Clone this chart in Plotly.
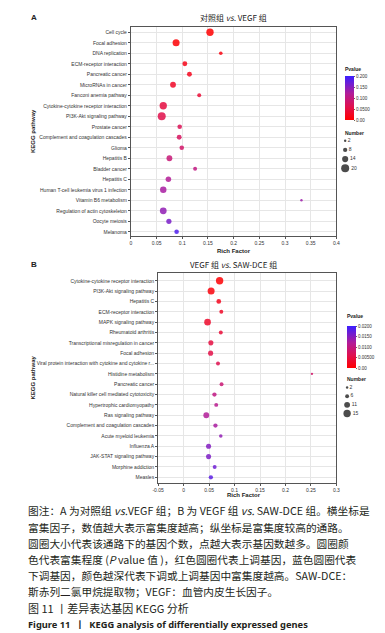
import plotly.graph_objects as go

W, H = 385, 633

# ---------------- Panel A data ----------------
paths_a = ["Cell cycle", "Focal adhesion", "DNA replication", "ECM-receptor interaction",
           "Pancreatic cancer", "MicroRNAs in cancer", "Fanconi anemia pathway",
           "Cytokine-cytokine receptor interaction", "PI3K-Akt signaling pathway",
           "Prostate cancer", "Complement and coagulation cascades", "Glioma",
           "Hepatitis B", "Bladder cancer", "Hepatitis C",
           "Human T-cell leukemia virus 1 infection", "Vitamin B6 metabolism",
           "Regulation of actin cytoskeleton", "Oocyte meiosis", "Melanoma"]
rich_a = [0.154, 0.088, 0.175, 0.105, 0.114, 0.082, 0.133, 0.063, 0.060, 0.095,
          0.094, 0.099, 0.075, 0.125, 0.073, 0.063, 0.332, 0.063, 0.074, 0.089]
num_a = [18, 17, 6, 10, 10, 13, 7, 18, 20, 9, 10, 9, 13, 7, 12, 15, 2, 16, 11, 9]
pval_a = [0.0005, 0.004, 0.012, 0.018, 0.022, 0.030, 0.041, 0.050, 0.058, 0.066,
          0.072, 0.080, 0.092, 0.101, 0.118, 0.127, 0.134, 0.142, 0.158, 0.186]
xtick_a = [0, 0.05, 0.1, 0.15, 0.2, 0.25, 0.3, 0.35, 0.4]
xtick_a_text = ["0", "0.05", "0.1", "0.15", "0.2", "0.25", "0.3", "0.35", "0.4"]
cbar_a_vals = [0, 0.05, 0.1, 0.15, 0.2]
cbar_a_text = ["0.00", "0.0500", "0.100", "0.150", "0.200"]
size_leg_a = [2, 8, 14, 20]

# ---------------- Panel B data ----------------
paths_b = ["Cytokine-cytokine receptor interaction", "PI3K-Akt signaling pathway",
           "Hepatitis C", "ECM-receptor interaction", "MAPK signaling pathway",
           "Rheumatoid arthritis", "Transcriptional misregulation in cancer",
           "Focal adhesion", "Viral protein interaction with cytokine and cytokine r...",
           "Histidine metabolism", "Pancreatic cancer",
           "Natural killer cell mediated cytotoxicity", "Hypertrophic cardiomyopathy",
           "Ras signaling pathway", "Complement and coagulation cascades",
           "Acute myeloid leukemia", "Influenza A", "JAK-STAT signaling pathway",
           "Morphine addiction", "Measles"]
rich_b = [0.0707, 0.054, 0.069, 0.074, 0.047, 0.073, 0.0535, 0.053, 0.0675, 0.252,
          0.0745, 0.0605, 0.064, 0.0445, 0.0625, 0.073, 0.049, 0.049, 0.061, 0.0535]
num_b = [15, 14, 8, 6, 13, 6, 9, 9, 6, 2, 6, 7, 6, 11, 7, 5, 9, 9, 6, 7]
pval_b = [0.0004, 0.0010, 0.0022, 0.0030, 0.0034, 0.0042, 0.0050, 0.0055, 0.0062, 0.0080,
          0.0090, 0.0102, 0.0112, 0.0120, 0.0126, 0.0142, 0.0152, 0.0156, 0.0166, 0.0178]
xtick_b = [-0.05, 0, 0.05, 0.1, 0.15, 0.2, 0.25, 0.3]
xtick_b_text = ["-0.05", "0", "0.05", "0.1", "0.15", "0.2", "0.25", "0.3"]
cbar_b_vals = [0, 0.005, 0.01, 0.015, 0.02]
cbar_b_text = ["0.00", "0.00500", "0.0100", "0.0150", "0.0200"]
size_leg_b = [2, 6, 11, 15]

caption_lines = [
    "图注：A 为对照组 <i>vs.</i>VEGF 组；B 为 VEGF 组 <i>vs.</i> SAW-DCE 组。横坐标是",
    "富集因子，数值越大表示富集度越高；纵坐标是富集度较高的通路。",
    "圆圈大小代表该通路下的基因个数，点越大表示基因数越多。圆圈颜",
    "色代表富集程度 (<i>P</i> value 值 )，红色圆圈代表上调基因，蓝色圆圈代表",
    "下调基因，颜色越深代表下调或上调基因中富集度越高。SAW-DCE：",
    "斯赤列二氯甲烷提取物；VEGF：血管内皮生长因子。",
]
fig_title_cn = "图 11 丨差异表达基因 KEGG 分析"
fig_title_en = "Figure 11  丨  KEGG analysis of differentially expressed genes"

# ---------------- helpers ----------------
def px_x(p):
    return p / W

def px_y(p):
    return 1 - p / H

def diam(n, nmax, dmin=2.4, dmax=8.0):
    return [dmin + (v - 2) / (nmax - 2) * (dmax - dmin) for v in n]

cscale = [[0.0, "#ff0000"], [0.3, "#e0104e"], [0.6, "#b21c98"], [1.0, "#3b1fff"]]
FONT = "Liberation Sans, Arial, sans-serif"
CJK = "Noto Sans CJK SC"

fig = go.Figure()

fig.add_trace(go.Scatter(
    x=rich_a, y=paths_a, mode="markers", xaxis="x", yaxis="y",
    marker=dict(size=diam(num_a, max(size_leg_a)), color=pval_a, coloraxis="coloraxis",
                opacity=0.85, line=dict(width=0)),
    showlegend=False, hoverinfo="skip"))

fig.add_trace(go.Scatter(
    x=rich_b, y=paths_b, mode="markers", xaxis="x2", yaxis="y2",
    marker=dict(size=diam(num_b, max(size_leg_b), dmax=7.4), color=pval_b, coloraxis="coloraxis2",
                opacity=0.85, line=dict(width=0)),
    showlegend=False, hoverinfo="skip"))

# size legends
fig.add_trace(go.Scatter(
    x=[0] * len(size_leg_a), y=list(range(len(size_leg_a))), mode="markers+text",
    xaxis="x3", yaxis="y3", text=[str(v) for v in size_leg_a], textposition="middle right",
    textfont=dict(size=5, family=FONT, color="#333"),
    marker=dict(size=diam(size_leg_a, max(size_leg_a)), color="black", line=dict(width=0)),
    showlegend=False, hoverinfo="skip", cliponaxis=False))

fig.add_trace(go.Scatter(
    x=[0] * len(size_leg_b), y=list(range(len(size_leg_b))), mode="markers+text",
    xaxis="x4", yaxis="y4", text=[str(v) for v in size_leg_b], textposition="middle right",
    textfont=dict(size=5, family=FONT, color="#333"),
    marker=dict(size=diam(size_leg_b, max(size_leg_b), dmax=7.4), color="black", line=dict(width=0)),
    showlegend=False, hoverinfo="skip", cliponaxis=False))

axis_common = dict(showline=True, linecolor="#555", linewidth=1, mirror=True,
                   showgrid=True, gridcolor="#e6e6e6", gridwidth=0.8,
                   ticks="outside", ticklen=2, tickcolor="#555", tickwidth=0.8,
                   tickfont=dict(size=5, family=FONT, color="#333"), zeroline=False)

fig.update_layout(
    width=W, height=H, margin=dict(l=0, r=0, t=0, b=0),
    paper_bgcolor="white", plot_bgcolor="white",
    xaxis=dict(domain=[px_x(120), px_x(331)], anchor="y", range=[0, 0.4],
               tickvals=xtick_a, ticktext=xtick_a_text, **axis_common),
    yaxis=dict(domain=[px_y(228), px_y(19)], anchor="x", type="category",
               range=[19.4, -0.5], **axis_common),
    xaxis2=dict(domain=[px_x(148), px_x(331)], anchor="y2", range=[-0.05, 0.3],
                tickvals=xtick_b, ticktext=xtick_b_text, **axis_common),
    yaxis2=dict(domain=[px_y(475), px_y(265)], anchor="x2", type="category",
                range=[19.55, -0.75], **axis_common),
    xaxis3=dict(domain=[px_x(335), px_x(345)], anchor="y3", range=[-1, 1], visible=False),
    yaxis3=dict(domain=[px_y(164), px_y(129)], anchor="x3", range=[3.4, -0.4], visible=False),
    xaxis4=dict(domain=[px_x(337), px_x(347)], anchor="y4", range=[-1, 1], visible=False),
    yaxis4=dict(domain=[px_y(409), px_y(376)], anchor="x4", range=[3.4, -0.4], visible=False),
    coloraxis=dict(cmin=0, cmax=0.2, colorscale=cscale,
                   colorbar=dict(x=px_x(340), xanchor="left", y=px_y(68), yanchor="top",
                                 len=44, lenmode="pixels", thickness=9, xpad=0, ypad=0,
                                 outlinewidth=0, tickvals=cbar_a_vals, ticktext=cbar_a_text,
                                 ticks="outside", ticklen=1.5, tickcolor="#666",
                                 tickfont=dict(size=4.5, family=FONT, color="#333"))),
    coloraxis2=dict(cmin=0, cmax=0.02, colorscale=cscale,
                    colorbar=dict(x=px_x(342), xanchor="left", y=px_y(318), yanchor="top",
                                  len=42, lenmode="pixels", thickness=9, xpad=0, ypad=0,
                                  outlinewidth=0, tickvals=cbar_b_vals, ticktext=cbar_b_text,
                                  ticks="outside", ticklen=1.5, tickcolor="#666",
                                  tickfont=dict(size=4.5, family=FONT, color="#333"))),
)

ann = []
def text(x, y, s, size, family=FONT, bold=False, xanchor="center", angle=0, color="#222"):
    ann.append(dict(xref="paper", yref="paper", x=px_x(x), y=px_y(y), text=("<b>%s</b>" % s) if bold else s,
                    showarrow=False, xanchor=xanchor, yanchor="middle", textangle=angle,
                    font=dict(size=size, family=family, color=color)))

text(15, 9, "A", 8, bold=True, xanchor="left")
text(15, 256, "B", 8, bold=True, xanchor="left")
text(225.5, 9, "对照组 <i>vs.</i> VEGF 组", 8, family=CJK)
text(225, 257, "VEGF 组 <i>vs.</i> SAW-DCE 组", 8, family=CJK)
text(225.5, 243, "Rich Factor", 6, bold=True)
text(236, 487, "Rich Factor", 6, bold=True)
text(19, 123.5, "KEGG pathway", 6, bold=True, angle=-90)
text(19, 370, "KEGG pathway", 6, bold=True, angle=-90)
text(338, 61, "Pvalue", 5, bold=True, xanchor="left")
text(338, 125, "Number", 5, bold=True, xanchor="left")
text(340, 308, "Pvalue", 5, bold=True, xanchor="left")
text(340, 371, "Number", 5, bold=True, xanchor="left")

for i, line in enumerate(caption_lines):
    text(12, 503 + 16 * i, line, 10.7, family=CJK, xanchor="left", color="#231f20")
text(12, 600, fig_title_cn, 11, family=CJK, xanchor="left", color="#231f20")
text(12, 616, "<b>" + fig_title_en + "</b>", 9.3, family="Noto Sans, " + CJK, xanchor="left", color="#231f20")

fig.update_layout(annotations=ann)
fig.write_html("out.html")
